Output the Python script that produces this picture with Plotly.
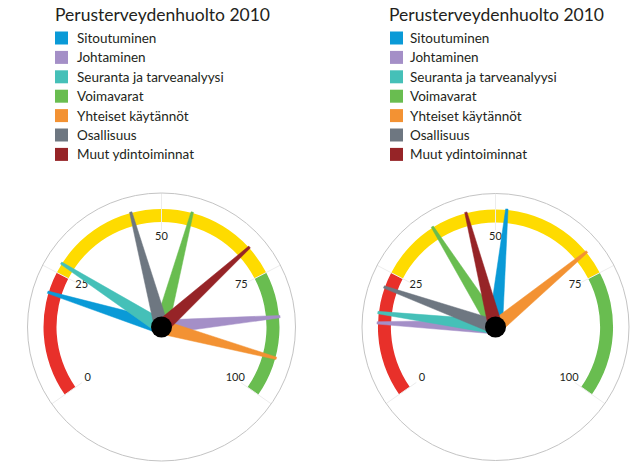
import math
import plotly.graph_objects as go

# ---------------- data ----------------
title_text = "Perusterveydenhuolto 2010"
categories = ["Sitoutuminen", "Johtaminen", "Seuranta ja tarveanalyysi", "Voimavarat",
              "Yhteiset käytännöt", "Osallisuus", "Muut ydintoiminnat"]
left_values = [20.8, 84.0, 27.0, 56.0, 92.1, 44.0, 69.1]
right_values = [52.2, 14.8, 16.8, 37.1, 70.2, 21.9, 44.2]
tick_values = [0, 25, 50, 75, 100]
tick_labels = ["0", "25", "50", "75", "100"]
band_edges = [0, 25, 75, 100]

# ---------------- styles ----------------
series_colors = ["#0a9ad7", "#a48fc7", "#45c0b8", "#69bd50", "#f39233", "#6e7781", "#962427"]
band_colors = ["#e8302a", "#fedb00", "#69bd50"]
DEG_PER_UNIT = 2.5      # 100 units span 250 degrees
R_MAX = 134
BAND_IN, BAND_OUT = 105, 118
NEEDLE_LEN = 119
BASE_HW, TIP_HW = 7.0, 1.2
LABEL_R = 90
FONT = "Lato"
TEXT_COL = "#231f20"
W, H = 633, 465


def px(x):
    return x / W


def py(y):
    return 1 - y / H


def needle(value):
    t = value * DEG_PER_UNIT
    rt = math.hypot(NEEDLE_LEN, TIP_HW)
    dt = math.degrees(math.atan2(TIP_HW, NEEDLE_LEN))
    r = [BASE_HW, rt, rt, BASE_HW, BASE_HW]
    th = [t - 90, t - dt, t + dt, t + 90, t - 90]
    return r, th


fig = go.Figure()


def add_gauge(values, polar):
    for tv in tick_values:
        fig.add_trace(go.Scatterpolar(
            r=[97, R_MAX], theta=[tv * DEG_PER_UNIT] * 2, mode="lines",
            line=dict(color="#ececec", width=1), subplot=polar,
            showlegend=False, hoverinfo="skip"))
    for i, c in enumerate(band_colors):
        a, b = band_edges[i], band_edges[i + 1]
        fig.add_trace(go.Barpolar(
            r=[BAND_OUT - BAND_IN], base=[BAND_IN],
            theta=[(a + b) / 2 * DEG_PER_UNIT], width=[(b - a) * DEG_PER_UNIT],
            marker=dict(color=c, line=dict(width=0)), subplot=polar,
            showlegend=False, hoverinfo="skip"))
    fig.add_trace(go.Scatterpolar(
        r=[LABEL_R] * len(tick_values), theta=[v * DEG_PER_UNIT for v in tick_values],
        mode="text", text=tick_labels, textfont=dict(family=FONT, size=11, color=TEXT_COL),
        subplot=polar, showlegend=False, hoverinfo="skip"))
    for cat, v, c in zip(categories, values, series_colors):
        r, th = needle(v)
        fig.add_trace(go.Scatterpolar(
            r=r, theta=th, mode="lines", fill="toself", fillcolor=c,
            line=dict(color=c, width=0.5), subplot=polar, name=cat,
            showlegend=False))
    fig.add_trace(go.Scatterpolar(
        r=[0], theta=[0], mode="markers", marker=dict(color="black", size=21),
        subplot=polar, showlegend=False, hoverinfo="skip"))


add_gauge(left_values, "polar")
add_gauge(right_values, "polar2")


def polar_layout(cx, cy, rad):
    return dict(
        domain=dict(x=[px(cx - rad), px(cx + rad)],
                    y=[py(cy + rad), py(cy - rad)]),
        bgcolor="white",
        radialaxis=dict(range=[0, R_MAX], visible=False, showgrid=False),
        angularaxis=dict(rotation=215, direction="clockwise", showgrid=False,
                         showticklabels=False, ticks="", showline=True,
                         linecolor="#c4c4c4", linewidth=1),
    )


annotations = []
shapes = []


def add_legend(title_x, sq_x, text_x):
    annotations.append(dict(
        text=title_text, x=px(title_x), y=py(15), xref="paper", yref="paper",
        xanchor="left", yanchor="middle", showarrow=False,
        font=dict(family=FONT, size=17.5, color=TEXT_COL)))
    row0, step, sq = 38, 19.4, 13
    for i, (cat, c) in enumerate(zip(categories, series_colors)):
        yc = row0 + i * step
        shapes.append(dict(
            type="rect", xref="paper", yref="paper",
            x0=px(sq_x), x1=px(sq_x + sq), y0=py(yc + sq / 2), y1=py(yc - sq / 2),
            fillcolor=c, line=dict(width=0)))
        annotations.append(dict(
            text=cat, x=px(text_x), y=py(yc), xref="paper", yref="paper",
            xanchor="left", yanchor="middle", showarrow=False,
            font=dict(family=FONT, size=13.5, color=TEXT_COL)))


add_legend(53, 55, 75)
add_legend(387, 390, 408)

fig.update_layout(
    width=W, height=H, margin=dict(l=0, r=0, t=0, b=0),
    paper_bgcolor="white", plot_bgcolor="white",
    polar=polar_layout(161.5, 327, 134),
    polar2=polar_layout(495.5, 327, 133.5),
    annotations=annotations, shapes=shapes,
    showlegend=False, hovermode=False,
)

fig.write_html("out.html", config={"displayModeBar": False},
               post_script="document.body.style.margin='0px';")
